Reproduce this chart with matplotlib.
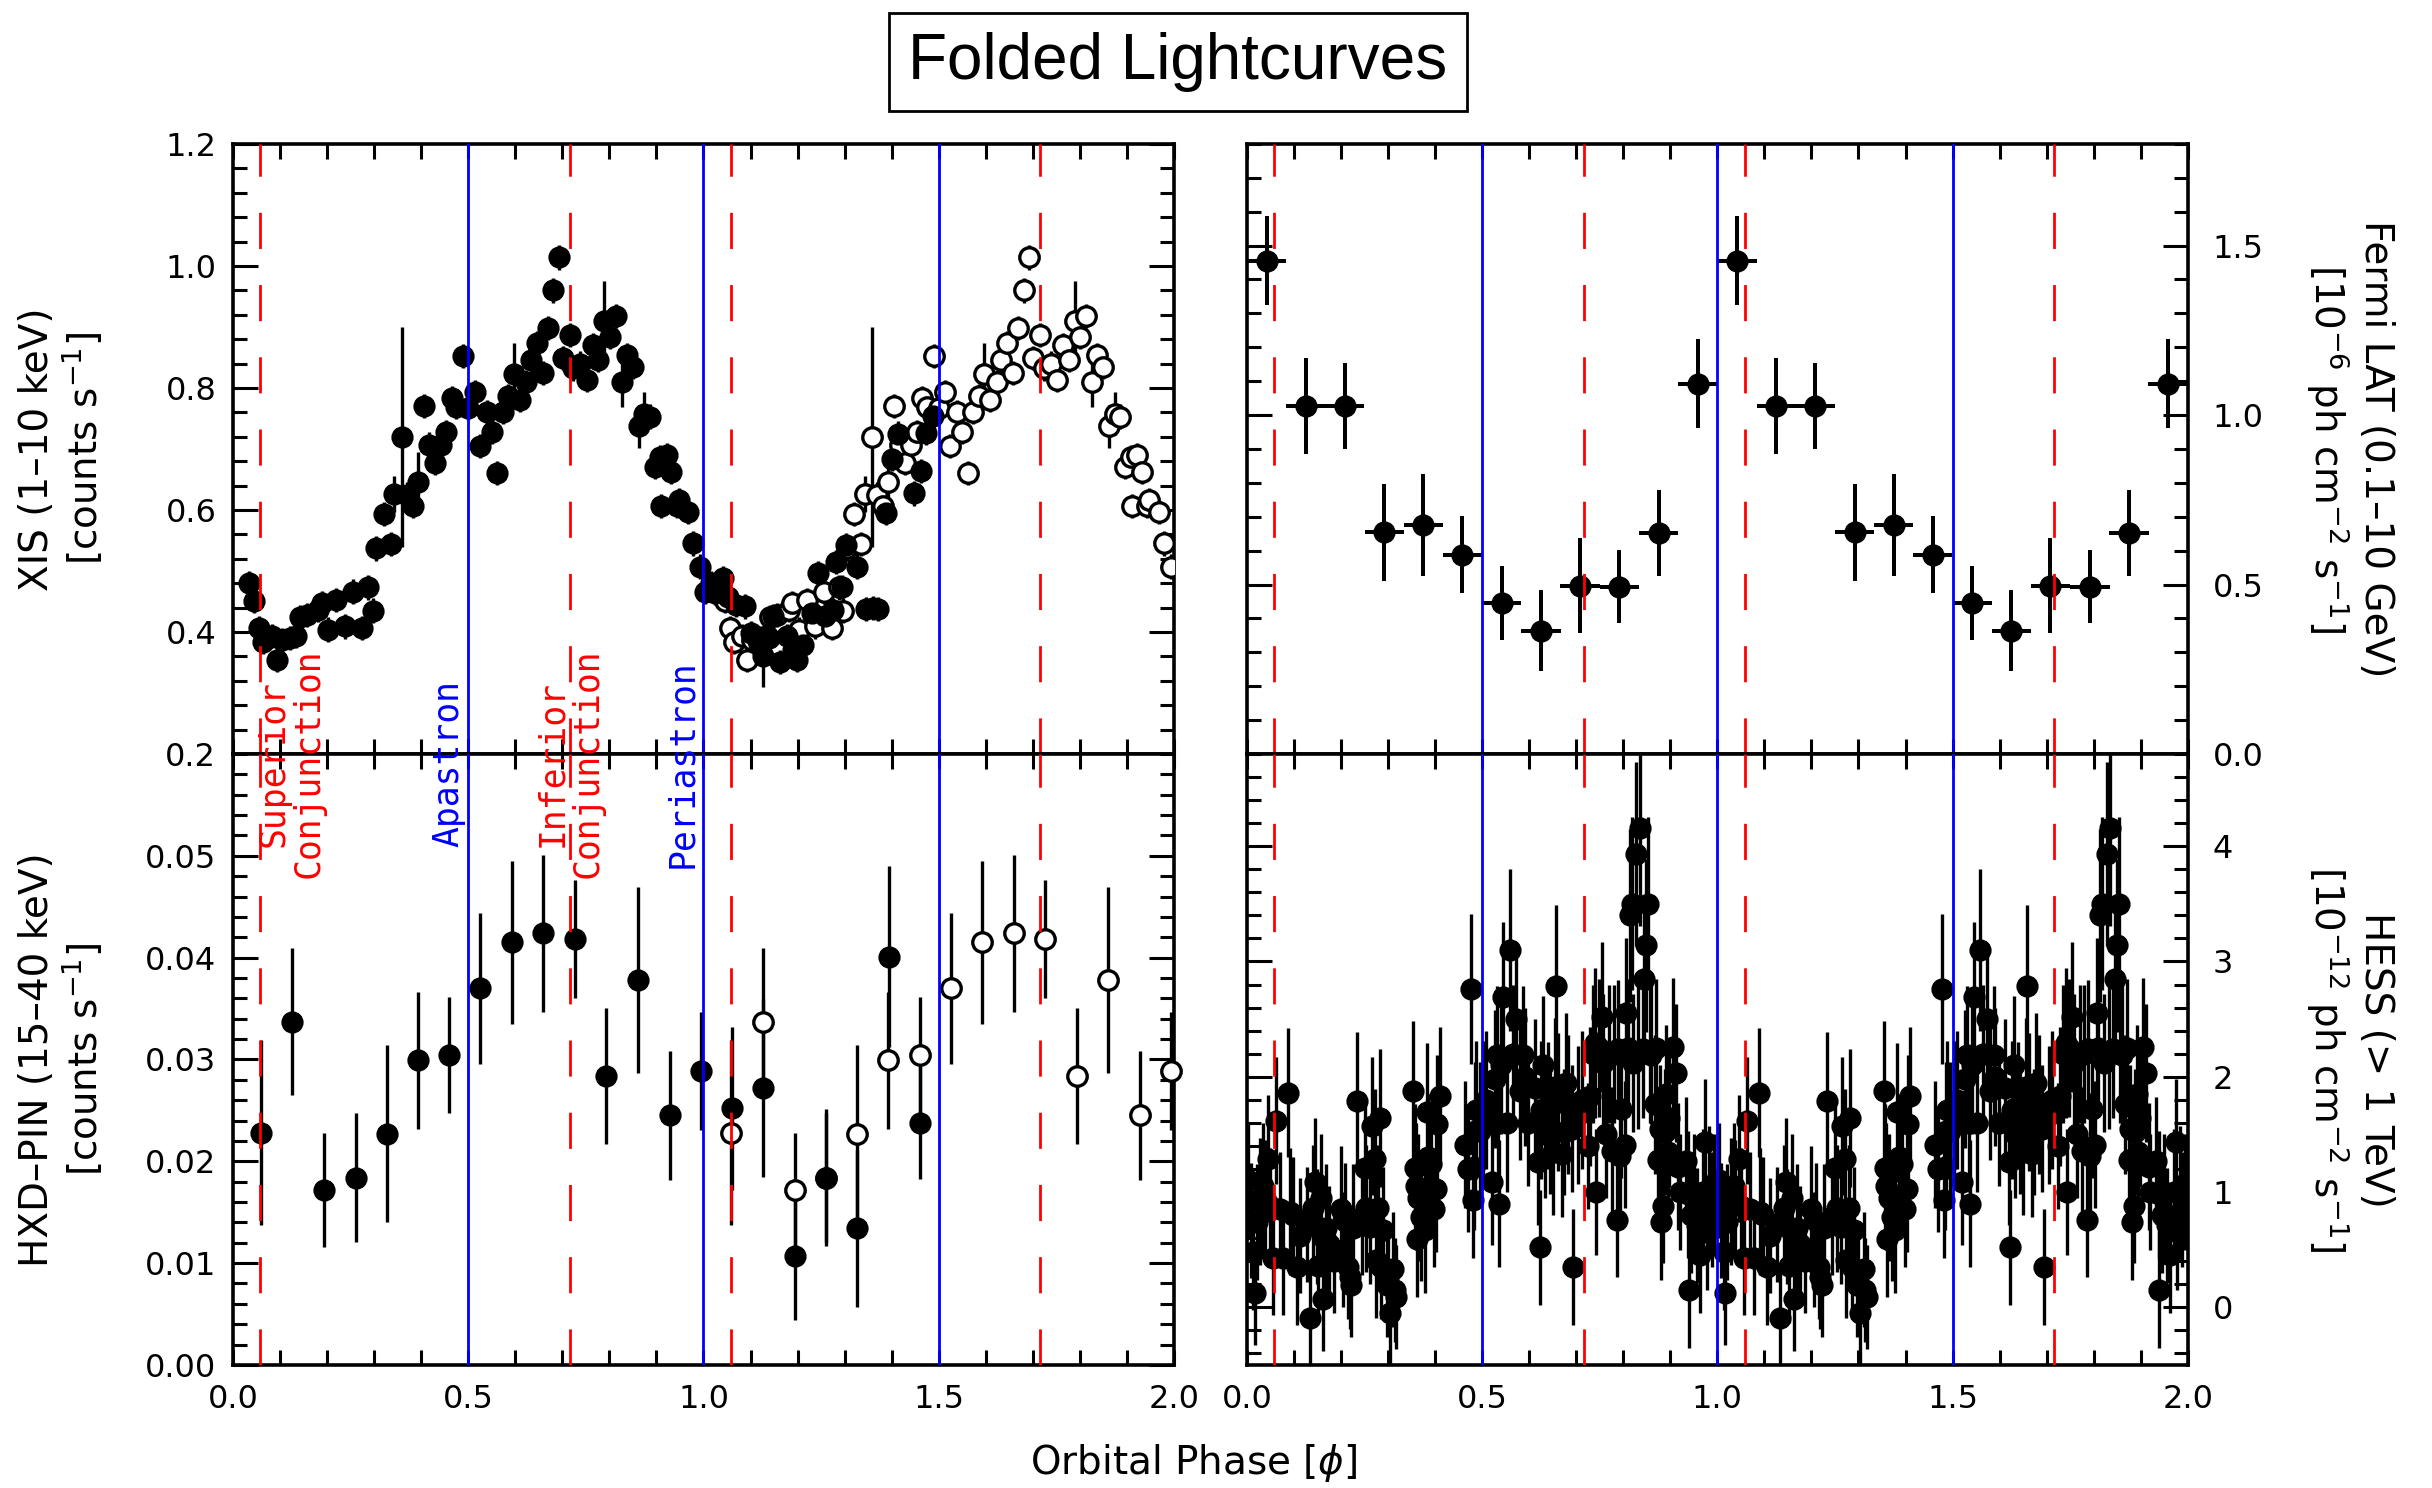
import matplotlib
matplotlib.use("Agg")
import matplotlib.pyplot as plt
import matplotlib.transforms as mtransforms
from matplotlib.ticker import MultipleLocator, FormatStrFormatter

# ---- Suzaku XIS (1-10 keV), filled = measured points
xis_phase = [0.033, 0.045, 0.056, 0.064, 0.082, 0.093, 0.104, 0.121, 0.135, 0.142,
             0.157, 0.181, 0.189, 0.203, 0.220, 0.238, 0.256, 0.274, 0.288, 0.297,
             0.305, 0.321, 0.335, 0.343, 0.359, 0.369, 0.382, 0.393, 0.405, 0.417,
             0.429, 0.442, 0.453, 0.465, 0.475, 0.489, 0.500, 0.514, 0.525, 0.539,
             0.550, 0.562, 0.573, 0.585, 0.597, 0.610, 0.623, 0.633, 0.646, 0.658,
             0.669, 0.681, 0.693, 0.701, 0.716, 0.723, 0.738, 0.752, 0.765, 0.776,
             0.789, 0.801, 0.814, 0.826, 0.837, 0.850, 0.862, 0.874, 0.886, 0.897,
             0.908, 0.910, 0.922, 0.932, 0.943, 0.947, 0.968, 0.978, 0.993, 1.003,
             1.015, 1.024, 1.035, 1.042, 1.053, 1.070, 1.088, 1.102, 1.115, 1.127,
             1.140, 1.148, 1.163, 1.177, 1.190, 1.198, 1.212, 1.230, 1.244, 1.258,
             1.276, 1.282, 1.294, 1.304, 1.326, 1.346, 1.361, 1.372, 1.387, 1.400,
             1.414, 1.448, 1.462, 1.473, 1.488]
xis_rate = [0.480, 0.451, 0.406, 0.384, 0.393, 0.354, 0.387, 0.390, 0.393, 0.424,
            0.428, 0.436, 0.447, 0.404, 0.452, 0.409, 0.466, 0.406, 0.473, 0.435,
            0.537, 0.593, 0.544, 0.626, 0.720, 0.625, 0.607, 0.645, 0.770, 0.707,
            0.677, 0.707, 0.728, 0.783, 0.769, 0.852, 0.767, 0.793, 0.705, 0.761,
            0.728, 0.661, 0.761, 0.787, 0.823, 0.780, 0.809, 0.845, 0.874, 0.824,
            0.898, 0.960, 1.014, 0.849, 0.887, 0.832, 0.840, 0.813, 0.870, 0.846,
            0.910, 0.883, 0.918, 0.809, 0.854, 0.835, 0.737, 0.758, 0.753, 0.671,
            0.686, 0.606, 0.690, 0.663, 0.606, 0.616, 0.597, 0.545, 0.507, 0.466,
            0.480, 0.464, 0.470, 0.488, 0.458, 0.445, 0.442, 0.398, 0.385, 0.360,
            0.390, 0.426, 0.351, 0.393, 0.370, 0.354, 0.379, 0.431, 0.497, 0.426,
            0.436, 0.515, 0.474, 0.543, 0.507, 0.438, 0.439, 0.438, 0.595, 0.684,
            0.725, 0.627, 0.664, 0.726, 0.754]
xis_err = [0.020, 0.020, 0.020, 0.020, 0.020, 0.020, 0.020, 0.020, 0.020, 0.020,
           0.020, 0.020, 0.020, 0.020, 0.020, 0.020, 0.020, 0.020, 0.020, 0.020,
           0.020, 0.020, 0.020, 0.030, 0.180, 0.020, 0.020, 0.050, 0.020, 0.020,
           0.020, 0.020, 0.020, 0.020, 0.020, 0.020, 0.020, 0.020, 0.020, 0.020,
           0.020, 0.020, 0.020, 0.020, 0.050, 0.020, 0.020, 0.020, 0.020, 0.020,
           0.020, 0.020, 0.020, 0.020, 0.020, 0.020, 0.020, 0.020, 0.020, 0.020,
           0.065, 0.020, 0.020, 0.040, 0.020, 0.020, 0.035, 0.035, 0.020, 0.020,
           0.020, 0.020, 0.020, 0.020, 0.020, 0.020, 0.020, 0.020, 0.020, 0.020,
           0.020, 0.020, 0.020, 0.020, 0.020, 0.020, 0.020, 0.020, 0.020, 0.050,
           0.020, 0.020, 0.020, 0.020, 0.020, 0.020, 0.020, 0.020, 0.020, 0.020,
           0.020, 0.020, 0.020, 0.020, 0.020, 0.020, 0.020, 0.020, 0.020, 0.020,
           0.020, 0.020, 0.020, 0.020, 0.020]

# ---- Suzaku HXD-PIN (15-40 keV)
hxd_phase = [0.059, 0.126, 0.194, 0.261, 0.327, 0.393, 0.460, 0.526, 0.593, 0.660, 0.727,
             0.793, 0.860, 0.928, 0.994, 1.060, 1.127, 1.194, 1.261, 1.327, 1.394, 1.460]
hxd_rate = [0.0228, 0.0337, 0.0172, 0.0184, 0.0227, 0.0299, 0.0304, 0.0370, 0.0415, 0.0424, 0.0418,
            0.0284, 0.0378, 0.0245, 0.0289, 0.0252, 0.0272, 0.0107, 0.0184, 0.0134, 0.0401, 0.0238]
hxd_err = [0.0091, 0.0072, 0.0056, 0.0063, 0.0087, 0.0067, 0.0057, 0.0074, 0.0080, 0.0077, 0.0058,
           0.0067, 0.0091, 0.0063, 0.0058, 0.0080, 0.0087, 0.0063, 0.0067, 0.0077, 0.0089, 0.0055]

# ---- Fermi LAT (0.1-10 GeV), one orbit, 12 bins
fermi_phase = [0.0417, 0.125, 0.208, 0.292, 0.375, 0.458, 0.542, 0.625, 0.708, 0.792, 0.875, 0.958]
fermi_flux = [1.455, 1.026, 1.026, 0.654, 0.676, 0.588, 0.445, 0.364, 0.496, 0.493, 0.652, 1.092]
fermi_err = [0.131, 0.142, 0.127, 0.144, 0.151, 0.114, 0.110, 0.120, 0.140, 0.108, 0.127, 0.131]
fermi_halfbin = 0.0417

# ---- HESS (> 1 TeV), one orbit
hess_phase = [0.003, 0.014, 0.017, 0.021, 0.035, 0.038, 0.045, 0.056, 0.062, 0.077,
              0.088, 0.091, 0.106, 0.127, 0.134, 0.141, 0.145, 0.152, 0.162, 0.169,
              0.200, 0.205, 0.219, 0.222, 0.226, 0.233, 0.251, 0.254, 0.265, 0.272,
              0.274, 0.279, 0.283, 0.290, 0.297, 0.304, 0.311, 0.318, 0.354, 0.357,
              0.359, 0.361, 0.371, 0.378, 0.382, 0.392, 0.403, 0.405, 0.410, 0.463,
              0.477, 0.481, 0.483, 0.485, 0.488, 0.495, 0.502, 0.520, 0.527, 0.531,
              0.534, 0.536, 0.545, 0.552, 0.559, 0.573, 0.580, 0.587, 0.591, 0.619,
              0.623, 0.626, 0.630, 0.633, 0.644, 0.655, 0.658, 0.662, 0.669, 0.673,
              0.683, 0.694, 0.704, 0.725, 0.729, 0.740, 0.743, 0.754, 0.757, 0.764,
              0.775, 0.786, 0.788, 0.793, 0.796, 0.803, 0.806, 0.814, 0.818, 0.821,
              0.828, 0.835, 0.842, 0.845, 0.849, 0.853, 0.860, 0.867, 0.874, 0.881,
              0.885, 0.888, 0.891, 0.898, 0.905, 0.912, 0.917, 0.933, 0.938, 0.939,
              0.956, 0.963, 0.970, 0.974, 0.983, 0.993,
              0.008, 0.028, 0.050, 0.070, 0.098, 0.112, 0.148, 0.158, 0.175, 0.186,
              0.209, 0.215, 0.244, 0.262, 0.286, 0.300, 0.314, 0.364, 0.386, 0.398,
              0.470, 0.509, 0.541, 0.565, 0.598, 0.612, 0.640, 0.650, 0.678, 0.690,
              0.712, 0.735, 0.748, 0.770, 0.780, 0.810, 0.832, 0.856, 0.870, 0.878,
              0.895, 0.920, 0.945, 0.950, 0.978, 0.988]
hess_flux = [1.10, 0.48, 0.12, 0.74, 1.05, 0.95, 1.29, 0.43, 1.62, 0.43,
             1.86, 0.83, 0.35, 0.72, -0.09, 0.86, 1.09, 0.36, 0.07, 0.69,
             0.85, 0.50, 0.26, 0.19, 0.69, 1.79, 1.21, 0.86, 1.57, 1.29,
             0.41, 0.86, 1.64, 0.67, 0.19, -0.05, 0.33, 0.09, 1.88, 1.21,
             1.05, 0.59, 0.78, 0.67, 1.69, 1.24, 1.03, 1.59, 1.83, 1.41,
             2.76, 0.93, 1.22, 1.53, 1.71, 1.53, 1.71, 1.09, 1.98, 2.19,
             1.60, 0.90, 2.69, 1.60, 3.10, 2.50, 1.88, 2.19, 2.00, 1.26,
             0.52, 1.71, 2.10, 1.50, 1.53, 1.91, 2.79, 1.78, 1.33, 1.52,
             1.76, 0.35, 1.67, 1.40, 1.83, 2.29, 1.00, 2.52, 2.12, 1.50,
             1.36, 0.76, 2.24, 1.31, 1.72, 1.41, 2.55, 3.40, 3.50, 2.12,
             3.93, 4.16, 2.24, 2.85, 3.14, 3.50, 2.19, 1.76, 1.28, 0.74,
             0.88, 1.52, 1.85, 1.64, 2.26, 2.03, 1.22, 1.27, 0.98, 0.15,
             0.71, 0.45, 1.00, 1.43, 1.02, 1.00,
             0.75, 0.92, 0.88, 0.85, 0.80, 0.62, 0.70, 0.95, 0.55, 0.40,
             0.75, 0.35, 0.78, 0.70, 0.35, 0.25, 0.15, 0.95, 1.30, 0.85,
             1.20, 1.80, 2.10, 2.20, 1.60, 1.90, 1.75, 1.35, 1.95, 1.55,
             1.80, 2.20, 2.25, 2.20, 2.20, 2.25, 2.20, 2.20, 2.25, 1.55,
             1.35, 1.00, 0.80, 1.00, 0.65, 0.85]
hess_err = [0.50, 0.50, 0.45, 0.50, 0.55, 0.50, 0.55, 0.50, 0.55, 0.50,
            0.56, 0.55, 0.50, 0.50, 0.45, 0.55, 0.55, 0.50, 0.45, 0.55,
            0.55, 0.50, 0.45, 0.45, 0.55, 0.60, 0.55, 0.55, 0.60, 0.60,
            0.50, 0.55, 0.60, 0.55, 0.45, 0.45, 0.50, 0.45, 0.60, 0.55,
            0.55, 0.50, 0.55, 0.55, 0.60, 0.55, 0.55, 0.60, 0.60, 0.55,
            0.65, 0.50, 0.55, 0.60, 0.60, 0.60, 0.60, 0.55, 0.60, 0.60,
            0.60, 0.55, 0.65, 0.60, 0.70, 0.65, 0.60, 0.60, 0.60, 0.55,
            0.50, 0.60, 0.60, 0.55, 0.55, 0.60, 0.70, 0.60, 0.55, 0.55,
            0.60, 0.50, 0.60, 0.55, 0.60, 0.65, 0.55, 0.65, 0.60, 0.55,
            0.55, 0.50, 0.60, 0.55, 0.60, 0.55, 0.65, 0.75, 0.75, 0.60,
            0.80, 0.85, 0.60, 0.70, 0.75, 0.75, 0.60, 0.60, 0.55, 0.50,
            0.50, 0.55, 0.60, 0.60, 0.60, 0.60, 0.55, 0.55, 0.55, 0.50,
            0.50, 0.50, 0.55, 0.55, 0.55, 0.50,
            0.50, 0.55, 0.50, 0.50, 0.50, 0.50, 0.50, 0.55, 0.50, 0.45,
            0.50, 0.45, 0.50, 0.50, 0.45, 0.45, 0.45, 0.55, 0.55, 0.50,
            0.55, 0.60, 0.60, 0.60, 0.55, 0.60, 0.55, 0.55, 0.60, 0.55,
            0.60, 0.60, 0.60, 0.60, 0.60, 0.60, 0.65, 0.60, 0.60, 0.55,
            0.55, 0.50, 0.50, 0.50, 0.50, 0.50]

# orbital reference phases
sup_conj = 0.058
inf_conj = 0.716
apastron = 0.5
periastron = 1.0

# second copy of each folded curve (phase + 1)
xis_open_phase = [p + 1 for p in xis_phase if p < 1.0]
xis_open_rate = [r for p, r in zip(xis_phase, xis_rate) if p < 1.0]
xis_open_err = [e for p, e in zip(xis_phase, xis_err) if p < 1.0]
hxd_open_phase = [p + 1 for p in hxd_phase if p < 1.0]
hxd_open_rate = [r for p, r in zip(hxd_phase, hxd_rate) if p < 1.0]
hxd_open_err = [e for p, e in zip(hxd_phase, hxd_err) if p < 1.0]

fig = plt.figure(figsize=(12.16, 7.44), dpi=200)
ax_tl = fig.add_axes([0.0958, 0.4933, 0.3869, 0.4100])
ax_tr = fig.add_axes([0.5127, 0.4933, 0.3869, 0.4100])
ax_bl = fig.add_axes([0.0958, 0.0827, 0.3869, 0.4106])
ax_br = fig.add_axes([0.5127, 0.0827, 0.3869, 0.4106])

ms = 7
elw = 1.2
for ax in (ax_tl, ax_tr, ax_bl, ax_br):
    ax.set_xlim(0, 2)
    ax.xaxis.set_major_locator(MultipleLocator(0.5))
    ax.xaxis.set_minor_locator(MultipleLocator(0.1))
    ax.xaxis.set_major_formatter(FormatStrFormatter('%.1f'))
    ax.tick_params(which='both', direction='in', top=True, bottom=True,
                   left=True, right=True, width=1.1, labelsize=11.5)
    ax.tick_params(axis='x', which='both', length=5.5, pad=7)
    ax.tick_params(axis='y', which='major', length=9, pad=6)
    ax.tick_params(axis='y', which='minor', length=5)
    for s in ax.spines.values():
        s.set_linewidth(1.3)
    for x in (apastron, periastron, apastron + 1):
        ax.axvline(x, color='#0000ff', lw=1.0, zorder=5)
    for x in (sup_conj, inf_conj, sup_conj + 1, inf_conj + 1):
        ax.axvline(x, color='#ff0000', lw=1.0, ls=(0, (13, 13)), zorder=5)

for ax in (ax_tl, ax_tr):
    ax.tick_params(labelbottom=False)
for ax in (ax_tr, ax_br):
    ax.tick_params(labelleft=False, labelright=True)
    ax.tick_params(axis='y', pad=9)

# XIS
ax_tl.errorbar(xis_open_phase, xis_open_rate, yerr=xis_open_err, fmt='o', ms=ms,
               mfc='white', mec='black', mew=1.2, ecolor='black', elinewidth=elw,
               capsize=0, zorder=3)
ax_tl.errorbar(xis_phase, xis_rate, yerr=xis_err, fmt='o', ms=ms, color='black',
               elinewidth=elw, capsize=0, zorder=3)
ax_tl.set_ylim(0.2, 1.2)
ax_tl.yaxis.set_major_locator(MultipleLocator(0.2))
ax_tl.yaxis.set_minor_locator(MultipleLocator(0.04))
ax_tl.yaxis.set_major_formatter(FormatStrFormatter('%.1f'))

# HXD-PIN
ax_bl.errorbar(hxd_open_phase, hxd_open_rate, yerr=hxd_open_err, fmt='o', ms=ms,
               mfc='white', mec='black', mew=1.2, ecolor='black', elinewidth=elw,
               capsize=0, zorder=3, clip_on=False)
ax_bl.errorbar(hxd_phase, hxd_rate, yerr=hxd_err, fmt='o', ms=ms, color='black',
               elinewidth=elw, capsize=0, zorder=3)
ax_bl.set_ylim(0, 0.06)
ax_bl.set_yticks([0.0, 0.01, 0.02, 0.03, 0.04, 0.05])
ax_bl.yaxis.set_minor_locator(MultipleLocator(0.002))
ax_bl.yaxis.set_major_formatter(FormatStrFormatter('%.2f'))

# Fermi
for shift in (0, 1):
    ax_tr.errorbar([p + shift for p in fermi_phase], fermi_flux, yerr=fermi_err,
                   xerr=fermi_halfbin, fmt='o', ms=ms, color='black',
                   elinewidth=elw * 1.2, capsize=0, zorder=3)
ax_tr.set_ylim(0, 1.8)
ax_tr.yaxis.set_major_locator(MultipleLocator(0.5))
ax_tr.yaxis.set_minor_locator(MultipleLocator(0.1))
ax_tr.yaxis.set_major_formatter(FormatStrFormatter('%.1f'))

# HESS
for shift in (0, 1):
    ax_br.errorbar([p + shift for p in hess_phase], hess_flux, yerr=hess_err,
                   fmt='o', ms=ms, color='black', elinewidth=elw, capsize=0,
                   zorder=3)
ax_br.set_ylim(-0.5, 4.8)
ax_br.yaxis.set_major_locator(MultipleLocator(1))
ax_br.yaxis.set_minor_locator(MultipleLocator(0.2))
ax_br.yaxis.set_major_formatter(FormatStrFormatter('%d'))

# axis labels
lab = dict(fontsize=14, linespacing=1.15, ha='center', va='center')
ax_tl.set_ylabel('XIS (1\u201310 keV)\n[counts s$^{-1}$]', **lab)
ax_bl.set_ylabel('HXD\u2013PIN (15\u201340 keV)\n[counts s$^{-1}$]', **lab)
ax_tl.yaxis.set_label_coords(-0.182, 0.5)
ax_bl.yaxis.set_label_coords(-0.182, 0.5)
for ax, txt in ((ax_tr, 'Fermi LAT (0.1\u201310 GeV)\n[10$^{-6}$ ph cm$^{-2}$ s$^{-1}$]'),
                (ax_br, 'HESS (> 1 TeV)\n[10$^{-12}$ ph cm$^{-2}$ s$^{-1}$]')):
    ax.yaxis.set_label_position('right')
    ax.set_ylabel(txt, rotation=270, **lab)
    ax.yaxis.set_label_coords(1.172, 0.5)

fig.text(0.491, 0.017, r'Orbital Phase [$\phi$]', fontsize=14, ha='center', va='center')

fig.text(0.4844, 0.9583, 'Folded Lightcurves', fontsize=23,
         family=['Liberation Sans', 'DejaVu Sans'], ha='center', va='center',
         bbox=dict(boxstyle='square,pad=0.3', fc='white', ec='black', lw=1.0))

# orbit markers across the panel boundary
trans = mtransforms.blended_transform_factory(ax_bl.transData, ax_bl.transAxes)
note = dict(transform=trans, rotation=90, ha='center', va='center',
            multialignment='center', fontsize=12.5, family='DejaVu Sans Mono',
            linespacing=1.05)
fig.text(0.124, 0.985, 'Superior\nConjunction', color='#ff0000', **note)
fig.text(0.457, 0.985, 'Apastron', color='#0000ff', **note)
fig.text(0.716, 0.985, 'Inferior\nConjunction', color='#ff0000', **note)
fig.text(0.955, 0.985, 'Periastron', color='#0000ff', **note)

fig.savefig('out.png', dpi=200)
